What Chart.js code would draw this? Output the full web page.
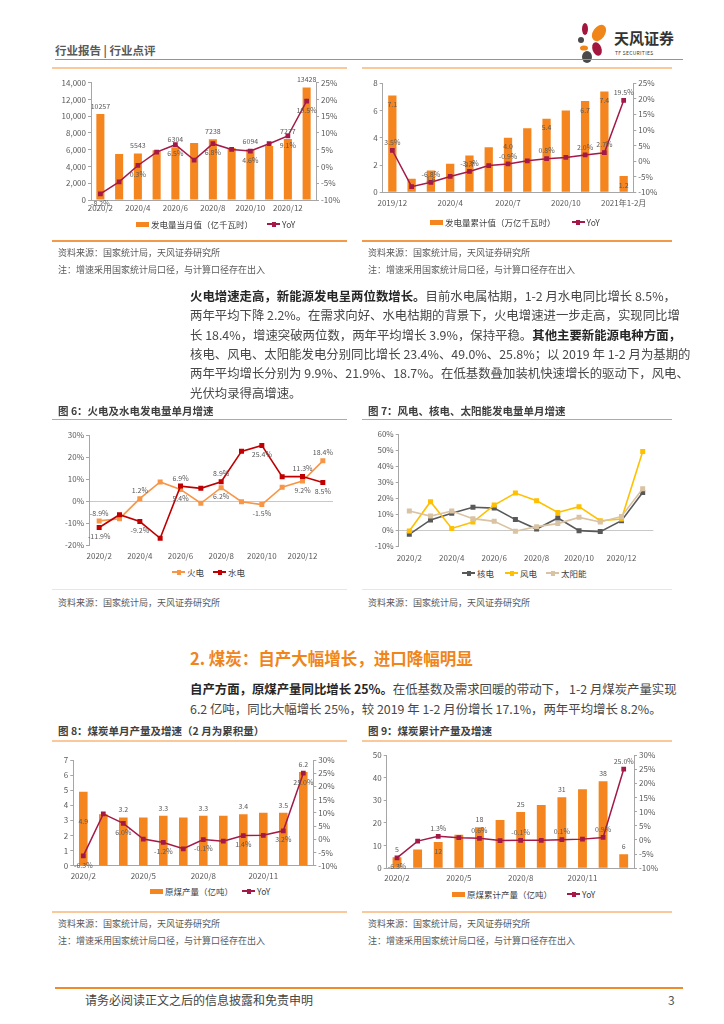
<!DOCTYPE html>
<html>
<head>
<meta charset="utf-8">
<script src="https://cdn.jsdelivr.net/npm/chart.js@4.4.0/dist/chart.umd.min.js"></script>
<style>
  body { margin: 0; background: #fff; }
  #page { position: relative; width: 724px; height: 1024px; overflow: hidden; font-family: "Noto Sans CJK SC", "Noto Sans", sans-serif; color: #333; }
  .t { position: absolute; white-space: nowrap; }
  .ln { position: absolute; height: 0; }
  canvas { position: absolute; }
  .p { position: absolute; left: 190px; width: 486px; font-size: 12.4px; line-height: 19px; height: 19px; text-align: justify; text-align-last: justify; color: #474747; white-space: nowrap; }
  .p b { color: #262626; }
  .src { position: absolute; font-size: 9px; color: #595959; white-space: nowrap; line-height: 12px; }
  .ttl { position: absolute; font-size: 10.5px; font-weight: bold; color: #404040; white-space: nowrap; line-height: 14px; }
  .lg { position: absolute; font-size: 8.5px; color: #404040; white-space: nowrap; line-height: 12px; display: flex; align-items: center; }
  .box { display: inline-block; width: 13px; height: 5px; margin-right: 2px; }
  .mk { display: inline-block; width: 13px; height: 2px; position: relative; margin-right: 2px; }
  .mk i { position: absolute; left: 4.5px; top: -1.5px; width: 4px; height: 5px; }
</style>
</head>
<body>
<div id="page">
  <!-- header -->
  <div class="t" style="left:55px;top:42px;font-size:11.5px;font-weight:bold;color:#595959;line-height:16px">行业报告 | 行业点评</div>
  <svg style="position:absolute;left:576px;top:21px" width="36" height="42" viewBox="0 0 36 42">
    <ellipse cx="9" cy="8" rx="3" ry="6" fill="#A3173F"/>
    <ellipse cx="23" cy="12" rx="6" ry="9" transform="rotate(35 23 12)" fill="#F08519"/>
    <circle cx="5" cy="19" r="3" fill="#4A4A4A"/>
    <ellipse cx="8" cy="27" rx="4" ry="2.6" fill="#F08519"/>
    <ellipse cx="21" cy="28" rx="4.5" ry="7" transform="rotate(-20 21 28)" fill="#A3173F"/>
    <ellipse cx="11" cy="36" rx="5" ry="6" fill="#4A4A4A"/>
  </svg>
  <div class="t" style="left:614px;top:29px;font-size:15px;font-weight:bold;color:#333;line-height:18px">天风证券</div>
  <div class="t" style="left:615px;top:49px;font-size:5px;color:#333;line-height:7px;letter-spacing:0.3px">TF SECURITIES</div>
  <div class="ln" style="left:55px;top:59px;width:628px;border-top:1.5px solid #EE7D1F"></div>
  <div class="ln" style="left:52px;top:67px;width:295px;border-top:2px solid #FAC99B"></div>
  <div class="ln" style="left:362px;top:67px;width:310px;border-top:2px solid #FAC99B"></div>

  <canvas id="c1"></canvas>
  <canvas id="c2"></canvas>
  <div class="lg" style="left:136px;top:218px"><span class="box" style="background:#F5861F"></span>发电量当月值（亿千瓦时）<span style="width:14px"></span><span class="mk" style="background:#A31A48"><i style="background:#A31A48"></i></span>YoY</div>
  <div class="lg" style="left:430px;top:216px"><span class="box" style="background:#F5861F"></span>发电量累计值（万亿千瓦时）<span style="width:16px"></span><span class="mk" style="background:#A31A48"><i style="background:#A31A48"></i></span>YoY</div>
  <div class="ln" style="left:52px;top:240px;width:295px;border-top:2px solid #F39A4A"></div>
  <div class="ln" style="left:362px;top:240px;width:310px;border-top:2px solid #F39A4A"></div>
  <div class="src" style="left:58px;top:247px">资料来源：国家统计局，天风证券研究所</div>
  <div class="src" style="left:58px;top:264px">注：增速采用国家统计局口径，与计算口径存在出入</div>
  <div class="src" style="left:368px;top:247px">资料来源：国家统计局，天风证券研究所</div>
  <div class="src" style="left:368px;top:264px">注：增速采用国家统计局口径，与计算口径存在出入</div>

  <!-- paragraph 1 -->
  <div class="p" style="top:287px"><b>火电增速走高，新能源发电呈两位数增长。</b>目前水电属枯期，1-2 月水电同比增长 8.5%，</div>
  <div class="p" style="top:306px">两年平均下降 2.2%。在需求向好、水电枯期的背景下，火电增速进一步走高，实现同比增</div>
  <div class="p" style="top:325.5px">长 18.4%，增速突破两位数，两年平均增长 3.9%，保持平稳。<b>其他主要新能源电种方面，</b></div>
  <div class="p" style="top:345px">核电、风电、太阳能发电分别同比增长 23.4%、49.0%、25.8%；以 2019 年 1-2 月为基期的</div>
  <div class="p" style="top:364px">两年平均增长分别为 9.9%、21.9%、18.7%。在低基数叠加装机快速增长的驱动下，风电、</div>
  <div class="p" style="top:383.5px;text-align-last:left">光伏均录得高增速。</div>

  <div class="ttl" style="left:58px;top:404px">图 6：火电及水电发电量单月增速</div>
  <div class="ttl" style="left:368px;top:404px">图 7：风电、核电、太阳能发电量单月增速</div>
  <div class="ln" style="left:52px;top:419px;width:295px;border-top:1.5px solid #F39A4A"></div>
  <div class="ln" style="left:362px;top:419px;width:310px;border-top:1.5px solid #F39A4A"></div>
  <canvas id="c6"></canvas>
  <canvas id="c7"></canvas>
  <div class="lg" style="left:172px;top:566px"><span class="mk" style="background:#F79646"><i style="background:#F79646"></i></span>火电<span style="width:9px"></span><span class="mk" style="background:#C00000"><i style="background:#C00000"></i></span>水电</div>
  <div class="lg" style="left:462px;top:567px"><span class="mk" style="background:#595959"><i style="background:#595959"></i></span>核电<span style="width:11px"></span><span class="mk" style="background:#FFC000"><i style="background:#FFC000"></i></span>风电<span style="width:9px"></span><span class="mk" style="background:#D9C3A3"><i style="background:#D9C3A3"></i></span>太阳能</div>
  <div class="ln" style="left:52px;top:589px;width:295px;border-top:1px solid #E6E6E6"></div>
  <div class="ln" style="left:362px;top:589px;width:310px;border-top:1px solid #E6E6E6"></div>
  <div class="src" style="left:58px;top:597px">资料来源：国家统计局，天风证券研究所</div>
  <div class="src" style="left:368px;top:597px">资料来源：国家统计局，天风证券研究所</div>

  <!-- section 2 -->
  <div class="t" style="left:190px;top:647px;font-size:16.5px;font-weight:bold;color:#F08519;line-height:22px">2. 煤炭：自产大幅增长，进口降幅明显</div>
  <div class="p" style="top:679.5px"><b>自产方面，原煤产量同比增长 25%。</b>在低基数及需求回暖的带动下， 1-2 月煤炭产量实现</div>
  <div class="p" style="top:699.5px;text-align-last:left">6.2 亿吨，同比大幅增长 25%，较 2019 年 1-2 月份增长 17.1%，两年平均增长 8.2%。</div>

  <div class="ttl" style="left:58px;top:724px">图 8：煤炭单月产量及增速（2 月为累积量）</div>
  <div class="ttl" style="left:368px;top:724px">图 9：煤炭累计产量及增速</div>
  <div class="ln" style="left:52px;top:740px;width:295px;border-top:2px solid #FAC99B"></div>
  <div class="ln" style="left:362px;top:740px;width:310px;border-top:2px solid #FAC99B"></div>
  <canvas id="c8"></canvas>
  <canvas id="c9"></canvas>
  <div class="lg" style="left:150px;top:885px"><span class="box" style="background:#F5861F"></span>原煤产量（亿吨）<span style="width:9px"></span><span class="mk" style="background:#A31A48"><i style="background:#A31A48"></i></span>YoY</div>
  <div class="lg" style="left:452px;top:888px"><span class="box" style="background:#F5861F"></span>原煤累计产量（亿吨）<span style="width:15px"></span><span class="mk" style="background:#A31A48"><i style="background:#A31A48"></i></span>YoY</div>
  <div class="ln" style="left:52px;top:911px;width:295px;border-top:2px solid #FAC99B"></div>
  <div class="ln" style="left:362px;top:911px;width:310px;border-top:2px solid #FAC99B"></div>
  <div class="src" style="left:58px;top:918px">资料来源：国家统计局，天风证券研究所</div>
  <div class="src" style="left:58px;top:935px">注：增速采用国家统计局口径，与计算口径存在出入</div>
  <div class="src" style="left:368px;top:918px">资料来源：国家统计局，天风证券研究所</div>
  <div class="src" style="left:368px;top:935px">注：增速采用国家统计局口径，与计算口径存在出入</div>

  <!-- footer -->
  <div class="ln" style="left:55px;top:987px;width:628px;border-top:2px solid #EE8B2A"></div>
  <div class="t" style="left:85px;top:992px;font-size:12px;color:#444;line-height:16px">请务必阅读正文之后的信息披露和免责申明</div>
  <div class="t" style="left:668px;top:992px;font-size:12px;color:#555;line-height:16px">3</div>
</div>

<script>
// ---- data ----
const months = ["2020/2", "2020/3", "2020/4", "2020/5", "2020/6", "2020/7", "2020/8",
  "2020/9", "2020/10", "2020/11", "2020/12", "2021/2"];
const cumMonths = ["2019/12", "2020/2", "2020/3", "2020/4", "2020/5", "2020/6", "2020/7",
  "2020/8", "2020/9", "2020/10", "2020/11", "2020/12", "2021年1-2月"];

// fig 4: monthly generation (100m kWh) and yoy (%)
const genMonthly = [10257, 5500, 5543, 5930, 6304, 6800, 7238, 6200, 6094, 6450, 7277, 13428];
const genMonthlyYoy = [-8.2, -4.6, 0.3, 4.3, 6.5, 1.9, 6.8, 5.1, 4.6, 6.8, 9.1, 19.5];

// fig 5: cumulative generation (trillion kWh) and yoy (%)
const genCum = [7.1, 1.0, 1.6, 2.1, 2.7, 3.3, 4.0, 4.7, 5.4, 6.0, 6.7, 7.4, 1.2];
const genCumYoy = [3.5, -8.2, -6.8, -4.9, -3.3, -1.4, -0.9, 0.1, 0.8, 1.2, 2.0, 2.7, 19.5];

// fig 6: thermal / hydro monthly yoy (%)
const thermalYoy = [-8.9, -7.9, 1.2, 8.8, 5.4, -0.9, 6.2, -0.2, -1.5, 6.4, 9.2, 18.4];
const hydroYoy = [-11.9, -6.1, -9.2, -16.8, 6.9, 5.9, 8.9, 22.7, 25.4, 11.2, 11.3, 8.5];

// fig 7: nuclear / wind / solar monthly yoy (%)
const nuclearYoy = [-2.7, 6.3, 10.4, 14.2, 13.7, 6.5, 0.6, 7.5, -0.4, -1.0, 5.8, 23.4];
const windYoy = [-0.6, 17.7, 1.0, 5.0, 15.6, 23.1, 18.3, 11.0, 14.6, 5.8, 6.9, 49.0];
const solarYoy = [11.9, 8.7, 11.9, 7.1, 5.4, -0.8, 2.1, 4.0, 7.9, 5.0, 8.5, 25.8];

// fig 8: monthly raw coal (100m t) and yoy (%)
const coalMonthly = [4.9, 3.4, 3.2, 3.2, 3.3, 3.2, 3.3, 3.3, 3.4, 3.5, 3.5, 6.2];
const coalMonthlyYoy = [-6.3, 9.6, 6.0, 0.1, -1.2, -3.6, -0.1, -0.7, 1.4, 1.5, 3.2, 25.0];

// fig 9: cumulative raw coal (100m t) and yoy (%)
const coalCum = [4.9, 8.3, 11.6, 14.8, 18.1, 21.3, 24.8, 27.9, 31.3, 34.9, 38.4, 6.2];
const coalCumYoy = [-6.3, -0.4, 1.3, 0.8, 0.6, -0.2, -0.1, -0.1, 0.1, 0.3, 0.9, 25.0];

const ORANGE = "#F5861F";
const CRIMSON = "#A31A48";
const TICK = "#595959";
const AXIS = "#A6A6A6";
const FONT = "'Noto Sans CJK SC', 'Noto Sans', sans-serif";

// draws the little value labels next to bars / points
const valueLabels = {
  id: "valueLabels",
  afterDatasetsDraw(chart) {
    const ctx = chart.ctx;
    chart.data.datasets.forEach((ds, i) => {
      if (!ds.tags) return;
      const meta = chart.getDatasetMeta(i);
      ctx.save();
      ctx.font = "7px " + FONT;
      ctx.fillStyle = "#595959";
      ctx.textAlign = "center";
      ctx.textBaseline = "middle";
      Object.keys(ds.tags).forEach((k) => {
        const el = meta.data[k];
        const pos = ds.tags[k];
        let y = el.y;
        if (pos === "up") y -= 8;
        else if (pos === "down") y += 9;
        else if (pos === "in") y += 9;
        else if (pos === "mid") y = el.y + (el.base - el.y) * 0.4;
        ctx.fillText(ds.fmt(ds.data[k]), el.x, y);
      });
      ctx.restore();
    });
  },
};

function every(n, labels) {
  return function (v, i) { return i % n === 0 ? labels[i] : ""; };
}

// canvas box [x, y, w, h] on the page, plot rect [x1, y1, x2, y2] on the page
function setup(id, box, plot) {
  const c = document.getElementById(id);
  c.width = box[2];
  c.height = box[3];
  c.style.left = box[0] + "px";
  c.style.top = box[1] + "px";
  c.style.width = box[2] + "px";
  c.style.height = box[3] + "px";
  return {
    ctx: c.getContext("2d"),
    left: plot[0] - box[0],
    top: plot[1] - box[1],
    right: box[0] + box[2] - plot[2],
    bottom: box[1] + box[3] - plot[3],
  };
}

function xScale(labels, n, height, pad, border) {
  return {
    type: "category",
    labels: labels,
    offset: true,
    grid: { display: false, drawTicks: false },
    border: { display: border, color: AXIS },
    ticks: { autoSkip: false, maxRotation: 0, padding: pad, color: TICK, font: { family: FONT, size: 8 }, callback: every(n, labels) },
    afterFit: (s) => { s.height = height; },
  };
}

function yScale(pos, min, max, step, fmt, width, zeroLine) {
  return {
    type: "linear",
    position: pos,
    min: min,
    max: max,
    grid: {
      drawOnChartArea: !!zeroLine,
      color: (c) => (zeroLine && c.tick && c.tick.value === 0 ? "#C8C8C8" : "rgba(0,0,0,0)"),
      tickColor: AXIS,
      tickLength: 3,
    },
    border: { display: true, color: AXIS },
    ticks: { stepSize: step, padding: 2, color: TICK, font: { family: FONT, size: 8 }, callback: fmt },
    afterFit: (s) => { s.width = width; },
  };
}

const pct = (v) => v + "%";
const pct1 = (v) => v.toFixed(1) + "%";

function comboChart(id, box, plot, labels, n, bars, barFmt, barTags, yoy, yoyTags, left, right, xpad) {
  const f = setup(id, box, plot);
  return new Chart(f.ctx, {
    type: "bar",
    data: {
      labels: labels,
      datasets: [
        {
          type: "line", data: yoy, yAxisID: "y1", order: 0,
          borderColor: CRIMSON, backgroundColor: CRIMSON, borderWidth: 1.5,
          pointStyle: "rect", pointRadius: 2.3, pointHoverRadius: 2.3, tension: 0,
          tags: yoyTags, fmt: pct1,
        },
        {
          type: "bar", data: bars, yAxisID: "y", order: 1,
          backgroundColor: ORANGE, barPercentage: 0.43, categoryPercentage: 1,
          tags: barTags, fmt: barFmt,
        },
      ],
    },
    options: {
      responsive: false, animation: false, devicePixelRatio: 1,
      layout: { padding: { top: f.top, left: 0, right: 0, bottom: 0 } },
      plugins: { legend: { display: false }, tooltip: { enabled: false } },
      scales: {
        x: xScale(labels, n, f.bottom, xpad, true),
        y: yScale("left", left[0], left[1], left[2], left[3], f.left, false),
        y1: yScale("right", right[0], right[1], right[2], pct, f.right, false),
      },
    },
    plugins: [valueLabels],
  });
}

function lineChart(id, box, plot, series, min, max, step, xpad) {
  const f = setup(id, box, plot);
  return new Chart(f.ctx, {
    type: "line",
    data: {
      labels: months,
      datasets: series.map((s) => ({
        data: s.data, borderColor: s.color, backgroundColor: s.color, borderWidth: 1.6,
        pointStyle: "rect", pointRadius: 2.4, pointHoverRadius: 2.4, tension: 0,
        tags: s.tags, fmt: pct1,
      })),
    },
    options: {
      responsive: false, animation: false, devicePixelRatio: 1,
      layout: { padding: { top: f.top, left: 0, right: f.right, bottom: 0 } },
      plugins: { legend: { display: false }, tooltip: { enabled: false } },
      scales: {
        x: xScale(months, 2, f.bottom, xpad, false),
        y: yScale("left", min, max, step, pct, f.left, true),
      },
    },
    plugins: [valueLabels],
  });
}

const alt = [0, 2, 4, 6, 8, 10];
function tagMap(idx, pos) {
  const m = {};
  idx.forEach((i) => { m[i] = pos; });
  return m;
}

comboChart("c1", [55, 72, 300, 148], [91, 82.7, 316, 200], months, 2,
  genMonthly, (v) => String(v), tagMap(alt.concat([11]), "up"),
  genMonthlyYoy, tagMap(alt.concat([11]), "down"),
  [0, 14000, 2000, (v) => v.toLocaleString("en-US")], [-10, 25, 5], 3);

comboChart("c2", [362, 72, 305, 146], [382.7, 83.3, 633.3, 192.3], cumMonths, 3,
  genCum, (v) => v.toFixed(1), tagMap([0, 2, 4, 6, 8, 10, 11, 12], "in"),
  genCumYoy, tagMap([0, 2, 4, 6, 8, 10, 11, 12], "up"),
  [0, 8, 2, (v) => v], [-10, 25, 5], 6);

lineChart("c6", [52, 425, 295, 140], [89, 435.3, 333, 545.3], [
  { data: hydroYoy, color: "#C00000", tags: { 0: "down", 2: "down", 4: "up", 6: "up", 8: "down", 10: "up", 11: "down" } },
  { data: thermalYoy, color: "#F79646", tags: { 0: "up", 2: "up", 4: "down", 6: "down", 8: "down", 10: "down", 11: "up" } },
], -20, 30, 10, 6);

lineChart("c7", [362, 425, 305, 140], [398.7, 434, 653.3, 546], [
  { data: solarYoy, color: "#D9C3A3" },
  { data: windYoy, color: "#FFC000" },
  { data: nuclearYoy, color: "#595959" },
], -10, 60, 10, 7);

const coalBarTags = tagMap([2, 4, 6, 8, 10, 11], "up");
coalBarTags[0] = "mid";
comboChart("c8", [52, 748, 295, 135], [73.3, 760, 313.3, 865.7], months, 3,
  coalMonthly, (v) => v.toFixed(1), coalBarTags,
  coalMonthlyYoy, tagMap(alt.concat([11]), "down"),
  [0, 7, 1, (v) => v], [-10, 30, 5], 5.5);

const cumYoyTags = tagMap([2, 4, 6, 8, 10, 11], "up");
cumYoyTags[0] = "down";
const cumBarTags = tagMap([0, 4, 6, 8, 10, 11], "up");
cumBarTags[2] = "in";
comboChart("c9", [362, 748, 305, 138], [386.7, 755, 634, 868.3], months, 3,
  coalCum, (v) => v.toFixed(0), cumBarTags,
  coalCumYoy, cumYoyTags,
  [0, 50, 10, (v) => v], [-10, 30, 5], 5.2);
</script>
</body>
</html>
